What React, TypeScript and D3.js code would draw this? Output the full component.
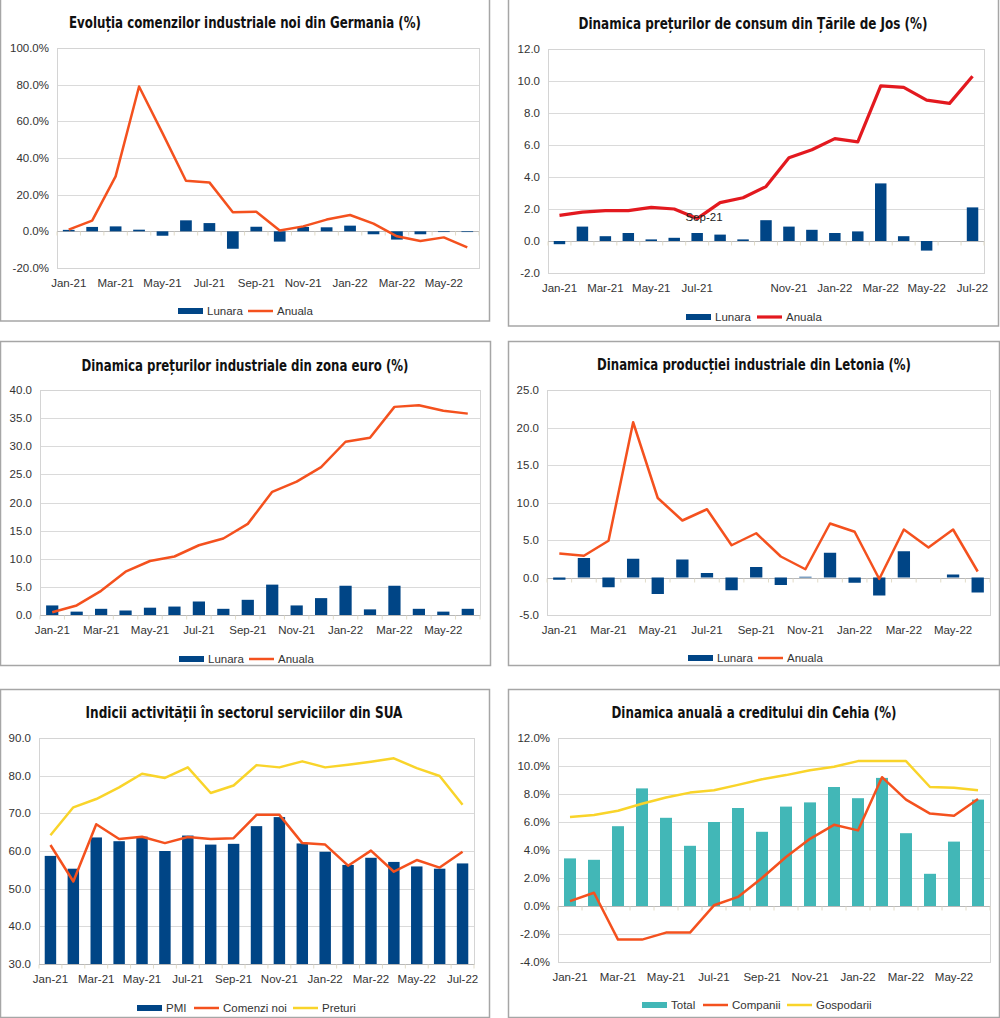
import React, { useEffect, useRef } from 'react';
import * as d3 from 'd3';

// categorii (luni)
const months = [
  'Jan-21', 'Feb-21', 'Mar-21', 'Apr-21', 'May-21', 'Jun-21', 'Jul-21', 'Aug-21', 'Sep-21', 'Oct-21',
  'Nov-21', 'Dec-21', 'Jan-22', 'Feb-22', 'Mar-22', 'Apr-22', 'May-22', 'Jun-22', 'Jul-22',
];
const months18 = months.slice(0, 18);

// Germania - comenzi industriale noi (%)
const deOrdersMonthly = [0.8, 2.4, 2.7, 0.9, -2.4, 6.0, 4.5, -9.5, 2.5, -5.6, 2.4, 2.2, 3.1, -1.6, -4.5, -1.6, -0.4, -0.4];
const deOrdersAnnual = [0.9, 5.8, 30.0, 79.0, 53.6, 27.6, 26.7, 10.4, 10.7, 0.5, 2.7, 6.4, 8.9, 4.2, -2.7, -5.3, -3.3, -8.7];

// Tarile de Jos - preturi de consum (%)
const nlCpiMonthly = [-0.2, 0.9, 0.3, 0.5, 0.1, 0.2, 0.5, 0.4, 0.1, 1.3, 0.9, 0.7, 0.5, 0.6, 3.6, 0.3, -0.6, 0.0, 2.1];
const nlCpiAnnual = [1.6, 1.8, 1.9, 1.9, 2.1, 2.0, 1.4, 2.4, 2.7, 3.4, 5.2, 5.7, 6.4, 6.2, 9.7, 9.6, 8.8, 8.6, 10.3];

// zona euro - preturi industriale (%)
const ezPpiMonthly = [1.7, 0.6, 1.1, 0.8, 1.3, 1.5, 2.4, 1.1, 2.7, 5.4, 1.7, 3.0, 5.2, 1.0, 5.2, 1.1, 0.6, 1.1];
const ezPpiAnnual = [0.5, 1.7, 4.3, 7.7, 9.6, 10.4, 12.4, 13.6, 16.2, 21.9, 23.7, 26.3, 30.8, 31.5, 37.0, 37.3, 36.3, 35.8];

// Letonia - productie industriala (%)
const lvIndMonthly = [-0.3, 2.6, -1.3, 2.5, -2.2, 2.4, 0.6, -1.7, 1.4, -1.0, 0.1, 3.3, -0.7, -2.4, 3.5, 0.0, 0.4, -2.0];
const lvIndAnnual = [3.2, 2.9, 4.9, 20.7, 10.6, 7.6, 9.1, 4.3, 5.9, 2.8, 1.1, 7.2, 6.1, -0.2, 6.4, 4.0, 6.4, 0.8];

// SUA - servicii
const usPmi = [58.7, 55.3, 63.6, 62.6, 63.8, 60.0, 64.1, 61.7, 61.9, 66.6, 69.0, 62.0, 59.8, 56.3, 58.2, 57.1, 55.9, 55.3, 56.7];
const usNewOrders = [61.6, 51.9, 67.1, 63.2, 63.8, 62.1, 63.7, 63.2, 63.4, 69.6, 69.6, 62.1, 61.7, 56.1, 60.1, 54.5, 57.6, 55.6, 59.8];
const usPrices = [64.2, 71.6, 73.8, 76.9, 80.5, 79.4, 82.2, 75.4, 77.4, 82.8, 82.2, 83.8, 82.2, 82.9, 83.7, 84.6, 82.0, 79.9, 72.3];

// Cehia - credit (%)
const czTotal = [3.4, 3.3, 5.7, 8.4, 6.3, 4.3, 6.0, 7.0, 5.3, 7.1, 7.4, 8.5, 7.7, 9.15, 5.2, 2.3, 4.6, 7.6];
const czCompanies = [0.35, 0.95, -2.4, -2.4, -1.9, -1.9, 0.05, 0.65, 2.0, 3.5, 4.8, 5.8, 5.4, 9.2, 7.6, 6.6, 6.45, 7.65];
const czHouseholds = [6.35, 6.5, 6.8, 7.3, 7.75, 8.1, 8.27, 8.65, 9.05, 9.35, 9.7, 9.95, 10.35, 10.35, 10.35, 8.5, 8.45, 8.27];

const BLUE = '#004586';
const ORANGE = '#f4511e';
const RED = '#e3191f';
const YELLOW = '#f9d42a';
const TEAL = '#42b7b7';
const FONT = "'Liberation Sans', Arial, sans-serif";
const TITLE_FONT = "'Liberation Sans Narrow', 'DejaVu Sans Condensed', 'Liberation Sans', sans-serif";

interface Series {
  name: string;
  values: number[];
  color: string;
  width?: number;
}

interface Panel {
  title: string;
  titleX: number;
  titleY: number;
  titleW: number;
  frame: [number, number, number, number];
  plot: [number, number, number, number];
  categories: string[];
  shown: number[];
  yDomain: [number, number];
  yStep: number;
  pct: boolean;
  bars: Series;
  lines: Series[];
  legendY: number;
  legendX: number[];
  extraLabel?: { text: string; x: number; y: number };
}

const even = (n: number) => d3.range(0, n, 2);

const panels: Panel[] = [
  {
    title: 'Evoluția comenzilor industriale noi din Germania (%)',
    titleX: 245, titleY: 22, titleW: 352,
    frame: [0.5, -1, 489, 322],
    plot: [57, 48, 479, 268],
    categories: months18, shown: even(18),
    yDomain: [-20, 100], yStep: 20, pct: true,
    bars: { name: 'Lunara', values: deOrdersMonthly, color: BLUE },
    lines: [{ name: 'Anuala', values: deOrdersAnnual, color: ORANGE, width: 2.5 }],
    legendY: 311, legendX: [178, 248],
  },
  {
    title: 'Dinamica prețurilor de consum din Țările de Jos (%)',
    titleX: 753, titleY: 23, titleW: 349,
    frame: [508.5, -1, 490, 327],
    plot: [548, 49, 984, 273],
    categories: months, shown: [0, 2, 4, 6, 10, 12, 14, 16, 18],
    yDomain: [-2, 12], yStep: 2, pct: false,
    bars: { name: 'Lunara', values: nlCpiMonthly, color: BLUE },
    lines: [{ name: 'Anuala', values: nlCpiAnnual, color: RED, width: 3.2 }],
    legendY: 317, legendX: [686, 757],
    extraLabel: { text: 'Sep-21', x: 704, y: 217 },
  },
  {
    title: 'Dinamica prețurilor industriale din zona euro (%)',
    titleX: 245, titleY: 365, titleW: 327,
    frame: [0.5, 341.5, 490, 324],
    plot: [40, 390, 480, 615],
    categories: months18, shown: even(18),
    yDomain: [0, 40], yStep: 5, pct: false,
    bars: { name: 'Lunara', values: ezPpiMonthly, color: BLUE },
    lines: [{ name: 'Anuala', values: ezPpiAnnual, color: ORANGE, width: 2.5 }],
    legendY: 659, legendX: [179, 249],
  },
  {
    title: 'Dinamica producției industriale din Letonia (%)',
    titleX: 754, titleY: 364, titleW: 314,
    frame: [508.5, 341.5, 491, 324],
    plot: [547, 390, 990, 615],
    categories: months18, shown: even(18),
    yDomain: [-5, 25], yStep: 5, pct: false,
    bars: { name: 'Lunara', values: lvIndMonthly, color: BLUE },
    lines: [{ name: 'Anuala', values: lvIndAnnual, color: ORANGE, width: 2.5 }],
    legendY: 658, legendX: [688, 758],
  },
  {
    title: 'Indicii activității în sectorul serviciilor din SUA',
    titleX: 244, titleY: 712, titleW: 317,
    frame: [0.5, 689.5, 489, 328],
    plot: [39, 738, 474, 964],
    categories: months, shown: even(19),
    yDomain: [30, 90], yStep: 10, pct: false,
    bars: { name: 'PMI', values: usPmi, color: BLUE },
    lines: [
      { name: 'Comenzi noi', values: usNewOrders, color: ORANGE, width: 2.5 },
      { name: 'Preturi', values: usPrices, color: YELLOW, width: 2.5 },
    ],
    legendY: 1008, legendX: [137, 194, 293],
  },
  {
    title: 'Dinamica anuală a creditului din Cehia (%)',
    titleX: 754, titleY: 712, titleW: 285,
    frame: [508.5, 689.5, 491, 328],
    plot: [558, 738, 990, 962],
    categories: months18, shown: even(18),
    yDomain: [-4, 12], yStep: 2, pct: true,
    bars: { name: 'Total', values: czTotal, color: TEAL },
    lines: [
      { name: 'Companii', values: czCompanies, color: ORANGE, width: 2.5 },
      { name: 'Gospodarii', values: czHouseholds, color: YELLOW, width: 2.5 },
    ],
    legendY: 1005, legendX: [642, 703, 787],
  },
];

const drawPanel = (svg: d3.Selection<SVGSVGElement, unknown, null, undefined>, p: Panel) => {
  const [x0, y0, x1, y1] = p.plot;
  const g = svg.append('g');

  g.append('rect')
    .attr('x', p.frame[0]).attr('y', p.frame[1])
    .attr('width', p.frame[2]).attr('height', p.frame[3])
    .attr('fill', 'white').attr('stroke', '#a6a6a6').attr('stroke-width', 1.5);

  g.append('text')
    .attr('x', p.titleX).attr('y', p.titleY + 6)
    .attr('text-anchor', 'middle')
    .attr('textLength', p.titleW).attr('lengthAdjust', 'spacingAndGlyphs')
    .style('font-family', TITLE_FONT).style('font-weight', 'bold').style('font-size', '16.5px')
    .attr('fill', '#111')
    .text(p.title);

  const x = d3.scaleBand<string>().domain(p.categories).range([x0, x1]).padding(0);
  const y = d3.scaleLinear().domain(p.yDomain).range([y1, y0]);
  const ticks = d3.range(p.yDomain[0], p.yDomain[1] + p.yStep / 2, p.yStep);
  const fmt = (v: number) => v.toFixed(1) + (p.pct ? '%' : '');

  // grid
  g.append('g').selectAll('line').data(ticks).join('line')
    .attr('x1', x0).attr('x2', x1)
    .attr('y1', (d) => Math.round(y(d)) + 0.5).attr('y2', (d) => Math.round(y(d)) + 0.5)
    .attr('stroke', '#dadada');
  g.append('rect')
    .attr('x', x0 + 0.5).attr('y', y0 + 0.5).attr('width', x1 - x0).attr('height', y1 - y0)
    .attr('fill', 'none').attr('stroke', '#d4d4d4');

  g.append('g').selectAll('text').data(ticks).join('text')
    .attr('x', x0 - 8).attr('y', (d) => y(d) + 4)
    .attr('text-anchor', 'end')
    .style('font-family', FONT).style('font-size', '11.5px').attr('fill', '#333')
    .text(fmt);

  const base = Math.max(0, p.yDomain[0]);
  const axisY = Math.round(y(base)) + 0.5;
  g.append('line').attr('x1', x0).attr('x2', x1).attr('y1', axisY).attr('y2', axisY).attr('stroke', '#b8b8b8');
  g.append('g').selectAll('line').data(d3.range(p.categories.length + 1)).join('line')
    .attr('x1', (i) => x0 + i * x.bandwidth()).attr('x2', (i) => x0 + i * x.bandwidth())
    .attr('y1', axisY).attr('y2', axisY + 4)
    .attr('stroke', '#e2dcc8');

  g.append('g').selectAll('text').data(p.shown).join('text')
    .attr('x', (i) => x(p.categories[i])! + x.bandwidth() / 2)
    .attr('y', y1 + 19)
    .attr('text-anchor', 'middle')
    .style('font-family', FONT).style('font-size', '11.5px').attr('fill', '#333')
    .text((i) => p.categories[i]);

  const bw = x.bandwidth() * 0.5;
  g.append('g').selectAll('rect').data(p.bars.values).join('rect')
    .attr('x', (_, i) => x(p.categories[i])! + (x.bandwidth() - bw) / 2)
    .attr('y', (d) => y(Math.max(d, base)))
    .attr('width', bw)
    .attr('height', (d) => Math.abs(y(d) - y(base)))
    .attr('fill', p.bars.color);

  p.lines.forEach((s) => {
    const line = d3.line<number>()
      .x((_, i) => x(p.categories[i])! + x.bandwidth() / 2)
      .y((d) => y(d));
    g.append('path').attr('d', line(s.values))
      .attr('fill', 'none').attr('stroke', s.color).attr('stroke-width', s.width ?? 2.5)
      .attr('stroke-linejoin', 'round');
  });

  if (p.extraLabel) {
    g.append('text')
      .attr('x', p.extraLabel.x).attr('y', p.extraLabel.y + 4)
      .attr('text-anchor', 'middle')
      .style('font-family', FONT).style('font-size', '11.5px').attr('fill', '#222')
      .text(p.extraLabel.text);
  }

  // legend
  const items = [p.bars, ...p.lines];
  items.forEach((s, i) => {
    const lx = p.legendX[i];
    if (i === 0) {
      g.append('rect').attr('x', lx).attr('y', p.legendY - 3).attr('width', 25).attr('height', 6).attr('fill', s.color);
    } else {
      g.append('line').attr('x1', lx).attr('x2', lx + 25).attr('y1', p.legendY).attr('y2', p.legendY)
        .attr('stroke', s.color).attr('stroke-width', s.width ?? 2.5);
    }
    g.append('text').attr('x', lx + 29).attr('y', p.legendY + 4)
      .style('font-family', FONT).style('font-size', '11.5px').attr('fill', '#333')
      .text(s.name);
  });
};

const App: React.FC = () => {
  const chartRef = useRef<SVGSVGElement | null>(null);

  useEffect(() => {
    const svg = d3.select(chartRef.current!);
    svg.selectAll('*').remove();
    svg.append('rect').attr('width', 1000).attr('height', 1018).attr('fill', 'white');
    panels.forEach((p) => drawPanel(svg, p));
  }, []);

  return (
    <div style={{ position: 'absolute', left: 0, top: 0 }}>
      <svg ref={chartRef} width={1000} height={1018} style={{ display: 'block' }}></svg>
    </div>
  );
};

export default App;
